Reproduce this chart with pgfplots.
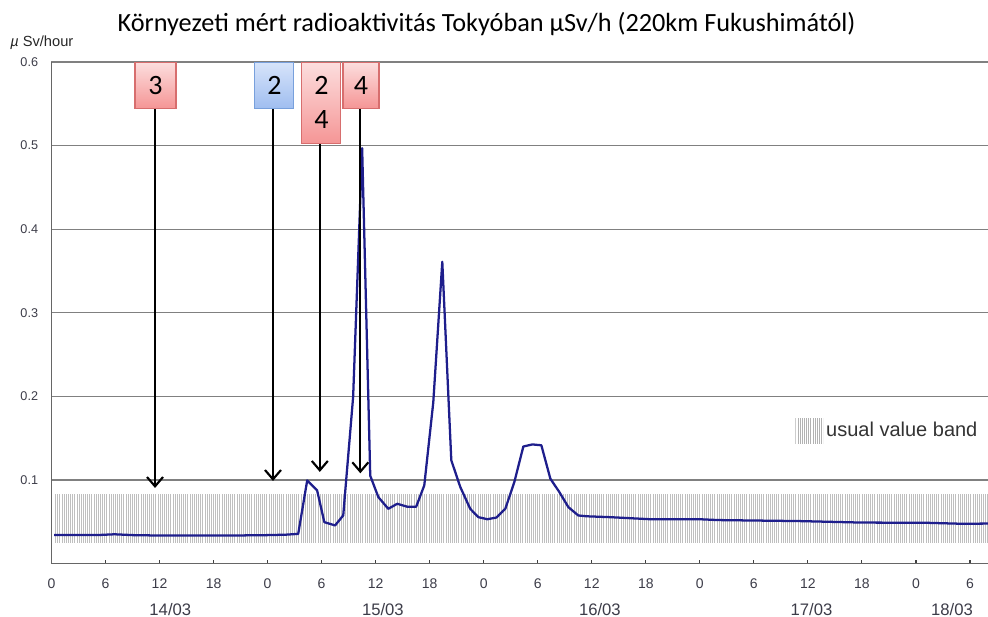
\documentclass[border=0pt]{standalone}
\usepackage{pgfplots}
\pgfplotsset{compat=1.18}
\usepackage{fontspec}
\setmainfont{Liberation Sans}
\newfontfamily\calibri{Carlito}
\usetikzlibrary{patterns.meta,arrows.meta}
\definecolor{curve}{RGB}{30,30,140}
\definecolor{ticktext}{RGB}{60,60,72}
\definecolor{redtop}{RGB}{252,222,222}
\definecolor{redbot}{RGB}{245,150,150}
\definecolor{redborder}{RGB}{215,110,110}
\definecolor{bluetop}{RGB}{215,228,250}
\definecolor{bluebot}{RGB}{160,190,240}
\definecolor{blueborder}{RGB}{120,160,220}
\begin{document}
\begin{tikzpicture}
\path[use as bounding box] (0,0) rectangle (741pt,462.75pt);
\node[anchor=base, font=\calibri\fontsize{19.7}{22}\selectfont] at (364.9pt,438.75pt)
  {Környezeti mért radioaktivitás Tokyóban µSv/h (220km Fukushimától)};
\node[anchor=base west, inner sep=0pt, font=\fontsize{11}{13}\selectfont, text=black!85] at (7.5pt,427.7pt)
  {\textit{µ} Sv/hour};
\begin{axis}[
  at={(38.6pt,40.1pt)}, anchor=south west,
  scale only axis, width=702.4pt, height=376.1pt,
  xmin=0, xmax=104, ymin=0, ymax=0.6,
  clip=false,
  axis x line*=bottom, axis y line*=left,
  axis line style={-, draw=black!60, line width=1pt},
  xtick={0,6,...,102},
  xticklabels={0,6,12,18,0,6,12,18,0,6,12,18,0,6,12,18,0,6},
  xtick align=inside, major tick length=3pt,
  x tick style={draw=black!75, line width=0.8pt},
  xticklabel style={anchor=base, yshift=-18.6pt, font=\fontsize{10.5}{12}\selectfont, text=ticktext},
  ytick={0.1,0.2,0.3,0.4,0.5,0.6},
  y tick style={draw=none},
  yticklabel style={font=\fontsize{9.5}{11}\selectfont, text=ticktext, xshift=-6.5pt,
    /pgf/number format/.cd, fixed, fixed zerofill, precision=1, assume math mode=true},
  ymajorgrids,
  major grid style={draw=black!50, line width=1pt},
]
% usual value band
\addplot[draw=none, pattern={Lines[angle=90,distance=1.6pt,line width=0.45pt]}, pattern color=black!25]
  coordinates {(0.4,0.025) (104,0.025) (104,0.083) (0.4,0.083)};
% measured dose rate
\addplot[curve, line width=1.7pt, line join=round] coordinates {
(0.3,0.034) (3,0.034) (5,0.034) (7,0.035) (9,0.034) (12,0.0335) (16,0.0335) (20,0.0335)
(24,0.034) (26,0.0345) (27.4,0.0355) (28.4,0.0995) (29.5,0.0875) (30.3,0.0495) (31.5,0.0456)
(32.4,0.0576) (33.5,0.1995) (34.5,0.497) (35.4,0.105) (36.3,0.0795) (37.4,0.0655) (38.4,0.0715)
(39.5,0.068) (40.5,0.068) (41.4,0.0935) (42.4,0.193) (43.4,0.361) (44.4,0.1235) (45.4,0.0915)
(46.5,0.0655) (47.4,0.0555) (48.4,0.053) (49.4,0.055) (50.4,0.0655) (51.4,0.0975) (52.4,0.140)
(53.4,0.1425) (54.4,0.1415) (55.4,0.1015) (56.4,0.0855) (57.4,0.0675) (58.5,0.0575) (59.5,0.0565)
(62,0.0555) (66.5,0.053) (72,0.053) (74,0.052) (83,0.0508) (90,0.049) (97,0.0488) (101,0.0476) (104,0.0478)
};
% legend
\fill[pattern={Lines[angle=90,distance=1.6pt,line width=0.45pt]}, pattern color=black!30]
  (axis cs:82.6,0.144) rectangle (axis cs:85.7,0.174);
\node[anchor=west, inner sep=0pt, font=\fontsize{15}{17}\selectfont, text=black!80] at (axis cs:86.0,0.160) {usual value band};
% date labels
\node[anchor=base, font=\fontsize{12.5}{14}\selectfont, text=ticktext] at ([yshift=-38.6pt]axis cs:13.2,0) {14/03};
\node[anchor=base, font=\fontsize{12.5}{14}\selectfont, text=ticktext] at ([yshift=-38.6pt]axis cs:36.8,0) {15/03};
\node[anchor=base, font=\fontsize{12.5}{14}\selectfont, text=ticktext] at ([yshift=-38.6pt]axis cs:60.9,0) {16/03};
\node[anchor=base, font=\fontsize{12.5}{14}\selectfont, text=ticktext] at ([yshift=-38.6pt]axis cs:84.4,0) {17/03};
\node[anchor=base, font=\fontsize{12.5}{14}\selectfont, text=ticktext] at ([yshift=-38.6pt]axis cs:100,0) {18/03};
% arrows
\draw[line width=1.6pt, -{Straight Barb[length=7pt,width=12pt,line width=1.6pt]}] (axis cs:11.5,0.5455) -- (axis cs:11.5,0.0904);
\draw[line width=1.6pt, -{Straight Barb[length=7pt,width=12pt,line width=1.6pt]}] (axis cs:24.6,0.5455) -- (axis cs:24.6,0.0988);
\draw[line width=1.6pt, -{Straight Barb[length=7pt,width=12pt,line width=1.6pt]}] (axis cs:29.8,0.5036) -- (axis cs:29.8,0.1096);
\draw[line width=1.6pt, -{Straight Barb[length=7pt,width=12pt,line width=1.6pt]}] (axis cs:34.3,0.5455) -- (axis cs:34.3,0.108);
% boxes
\node[anchor=north, draw=redborder, line width=0.8pt, top color=redtop, bottom color=redbot,
  minimum width=30.75pt, minimum height=34.5pt, inner sep=0pt, font=\calibri\fontsize{21}{23}\selectfont]
  at ([yshift=0.4pt]axis cs:11.55,0.6) {3};
\node[anchor=north, draw=blueborder, line width=0.8pt, top color=bluetop, bottom color=bluebot,
  minimum width=29.25pt, minimum height=34.5pt, inner sep=0pt, font=\calibri\fontsize{21}{23}\selectfont]
  at ([yshift=0.4pt]axis cs:24.76,0.6) {2};
\node[anchor=north, draw=redborder, line width=0.8pt, top color=redtop, bottom color=redbot,
  minimum width=29.25pt, minimum height=60.75pt, inner sep=0pt, align=center,
  font=\calibri\fontsize{21}{25}\selectfont]
  at ([yshift=0.4pt]axis cs:29.98,0.6) {2\\4};
\node[anchor=north, draw=redborder, line width=0.8pt, top color=redtop, bottom color=redbot,
  minimum width=27pt, minimum height=34.5pt, inner sep=0pt, font=\calibri\fontsize{21}{23}\selectfont]
  at ([yshift=0.4pt]axis cs:34.37,0.6) {4};
\end{axis}
\end{tikzpicture}
\end{document}
